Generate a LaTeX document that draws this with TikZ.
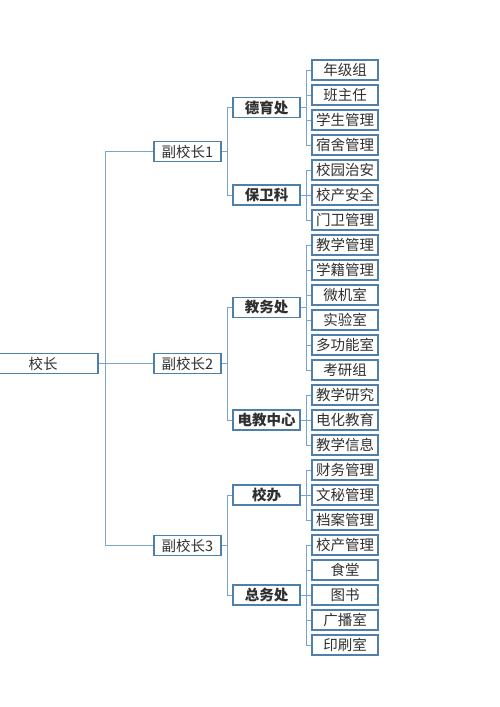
\documentclass[tikz,border=0pt]{standalone}
\usepackage{fontspec}
\usepackage{xcolor}
\newfontfamily\cjk{Noto Sans CJK SC}
\definecolor{boxline}{HTML}{4F80AC}
\definecolor{linkline}{HTML}{7DA3C6}
\definecolor{txt}{HTML}{303030}

\begin{document}
\begin{tikzpicture}[x=1pt,y=-1pt,
    box/.style={draw=boxline,line width=1.3pt,fill=white,text=txt,font=\cjk\fontsize{14.5}{14.5}\selectfont,
        minimum height=20pt,inner sep=0pt},
    leaf/.style={box,minimum width=66pt},
    dept/.style={box,minimum width=67pt,font=\cjk\bfseries\fontsize{14.5}{14.5}\selectfont},
    vice/.style={box,minimum width=67pt},
    link/.style={draw=linkline,line width=1pt}]

    \useasboundingbox (0,0) rectangle (500,707);
    \clip (0,0) rectangle (500,707);

    % Principal
    \node[box,minimum width=110pt] (head) at (43,363.5) {校长};

    % Vice principals
    \node[vice] (vp1) at (187.5,151.5) {副校长1};
    \node[vice] (vp2) at (187.5,363.5) {副校长2};
    \node[vice] (vp3) at (187.5,545.5) {副校长3};

    % Departments
    \node[dept] (moral)  at (266.5,107.5) {德育处};
    \node[dept] (guard)  at (266.5,195) {保卫科};
    \node[dept] (teach)  at (266.5,307.5) {教务处};
    \node[dept] (media)  at (266.5,420) {电教中心};
    \node[dept] (office) at (266.5,495) {校办};
    \node[dept] (gen)    at (266.5,595) {总务处};

    % Leaves
    \foreach \t [count=\i] in {年级组,班主任,学生管理,宿舍管理,校园治安,校产安全,门卫管理,
        教学管理,学籍管理,微机室,实验室,多功能室,考研组,教学研究,电化教育,教学信息,
        财务管理,文秘管理,档案管理,校产管理,食堂,图书,广播室,印刷室}
        \node[leaf] (l\i) at (345,45+25*\i) {\t};

    % Principal to vice principals
    \coordinate (j0) at (105,0);
    \draw[link] (head.east) -- (head.east -| j0);
    \draw[link] (vp1.west) -| (j0 |- vp3) -- (vp3.west);
    \draw[link] (vp2.west) -- (vp2.west -| j0);

    % Vice principals to departments
    \coordinate (j1) at (227,0);
    \foreach \v/\a/\b in {vp1/moral/guard,vp2/teach/media,vp3/office/gen}{
        \draw[link] (\v.east) -- (\v.east -| j1);
        \draw[link] (\a.west) -| (j1 |- \b) -- (\b.west);
    }

    % Departments to leaves
    \coordinate (j2) at (306,0);
    \foreach \d/\a/\b in {moral/1/4,guard/5/7,teach/8/13,media/14/16,office/17/19,gen/20/24}{
        \draw[link] (\d.east) -- (\d.east -| j2);
        \draw[link] (l\a.west) -| (j2 |- l\b) -- (l\b.west);
        \foreach \k in {\a,...,\b}
            \draw[link] (l\k.west) -- (l\k.west -| j2);
    }

\end{tikzpicture}
\end{document}
